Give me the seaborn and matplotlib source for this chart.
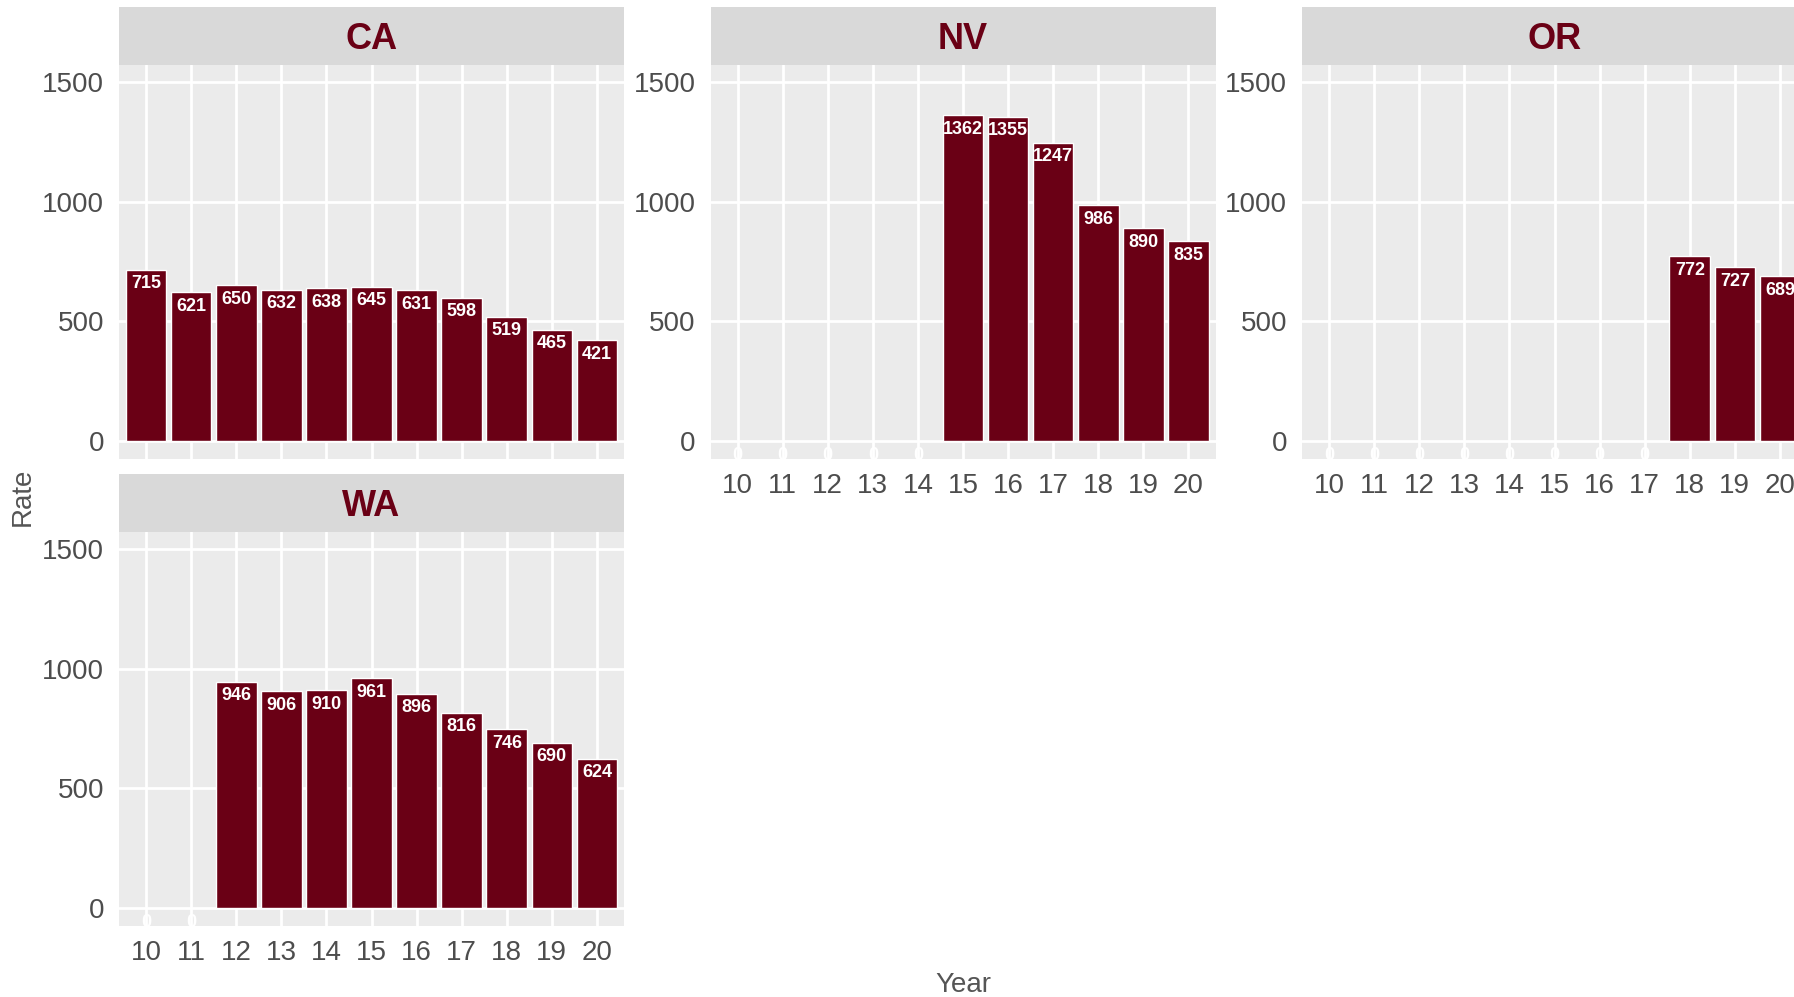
import matplotlib
matplotlib.use("Agg")
import matplotlib.pyplot as plt
import seaborn as sns
import pandas as pd

sns.set_style("white")
plt.rcParams['font.family'] = ['Liberation Sans', 'DejaVu Sans']

# data
years = ["10", "11", "12", "13", "14", "15", "16", "17", "18", "19", "20"]
ca_rate = [715, 621, 650, 632, 638, 645, 631, 598, 519, 465, 421]
nv_rate = [0, 0, 0, 0, 0, 1362, 1355, 1247, 986, 890, 835]
or_rate = [0, 0, 0, 0, 0, 0, 0, 0, 772, 727, 689]
wa_rate = [0, 0, 946, 906, 910, 961, 896, 816, 746, 690, 624]

states = ["CA", "NV", "OR", "WA"]
rates = [ca_rate, nv_rate, or_rate, wa_rate]

bar_col = "#6A0015"
strip_col = "#D9D9D9"
panel_col = "#EBEBEB"
tick_col = "#4D4D4D"

W, H = 1794, 997
fig = plt.figure(figsize=(W / 100, H / 100), dpi=100)

# panel positions in pixels: (strip top, panel top, panel bottom)
pw = 505
col_left = [119, 710.5, 1302]
rows = [(7, 65, 459), (474, 532, 926)]
layout = {"CA": (0, 0), "NV": (0, 1), "OR": (0, 2), "WA": (1, 0)}


def px_rect(x0, y0, x1, y1):
    return [x0 / W, 1 - y1 / H, (x1 - x0) / W, (y1 - y0) / H]


for st, vals in zip(states, rates):
    r, c = layout[st]
    st_top, p_top, p_bot = rows[r]
    left = col_left[c]

    # strip
    sax = fig.add_axes(px_rect(left, st_top, left + pw, p_top))
    sax.set_facecolor(strip_col)
    sax.set_xticks([])
    sax.set_yticks([])
    for sp in sax.spines.values():
        sp.set_visible(False)
    sax.text(0.5, 0.5, st, ha="center", va="center_baseline", fontsize=26,
             fontweight="bold", color=bar_col, transform=sax.transAxes)

    # panel
    ax = fig.add_axes(px_rect(left, p_top, left + pw, p_bot))
    df = pd.DataFrame({"Year": years, "Rate": vals})
    sns.barplot(data=df, x="Year", y="Rate", order=years, color=bar_col,
                saturation=1, width=0.9, ax=ax, zorder=3)
    ax.set_facecolor(panel_col)
    ax.grid(True, color="white", linewidth=2.0, zorder=0)
    ax.set_axisbelow(True)
    for sp in ax.spines.values():
        sp.set_visible(False)
    ax.set_xlim(-0.6, 10.6)
    ax.set_ylim(-75, 1571)
    ax.set_yticks([0, 500, 1000, 1500])
    ax.set_xlabel("")
    ax.set_ylabel("")
    ax.tick_params(axis="both", colors="#333333", labelcolor=tick_col,
                   labelsize=20, length=5.8, width=1.4)
    ax.tick_params(axis="y", pad=5)
    ax.tick_params(axis="x", pad=4)
    if st == "CA":
        ax.tick_params(axis="x", length=0, labelbottom=False)

    for i, v in enumerate(vals):
        ax.annotate(str(v), (i, v), xytext=(0, -4), textcoords="offset points",
                    ha="center", va="top", color="white", fontsize=13,
                    fontweight="bold", clip_on=True, zorder=4)

fig.text(963 / W, 1 - 985 / H, "Year", ha="center", va="center",
         fontsize=20, color="#555555")
fig.text(23 / W, 1 - 497 / H, "Rate", ha="center", va="center",
         rotation=90, fontsize=20, color="#555555")

fig.savefig("out.png", dpi=100)
